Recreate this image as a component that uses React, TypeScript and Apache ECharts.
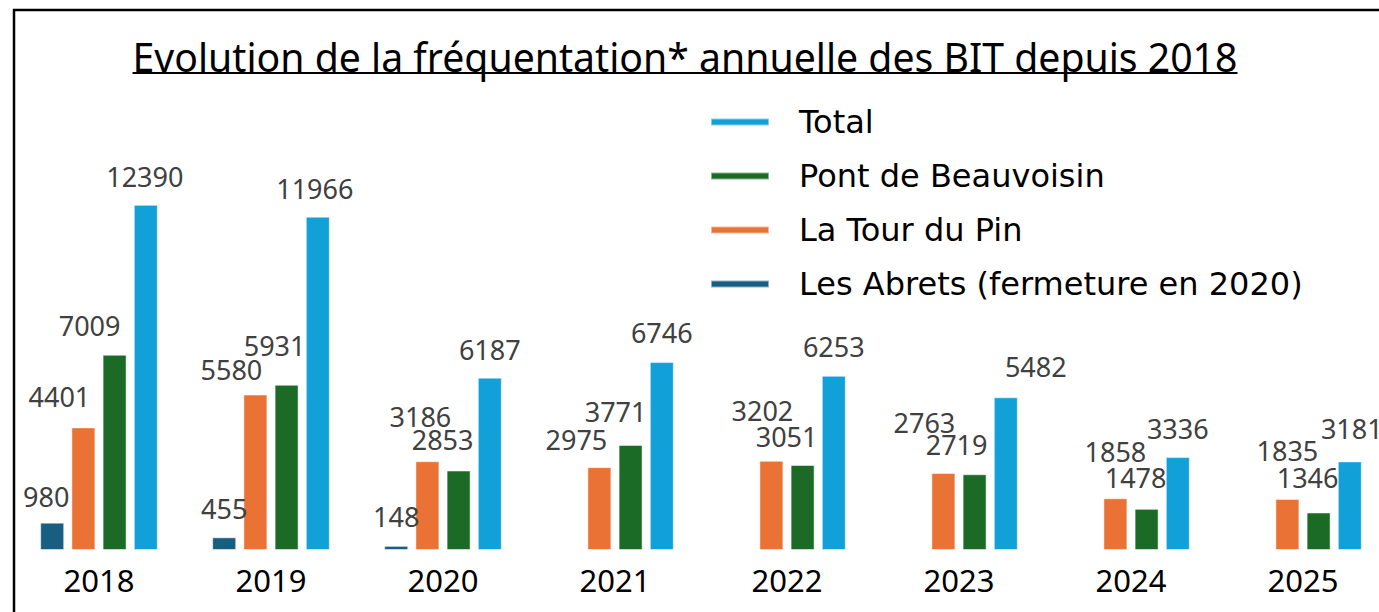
import React, { useEffect, useRef } from 'react';
import * as echarts from 'echarts';

const years = ['2018', '2019', '2020', '2021', '2022', '2023', '2024', '2025'];
const lesAbrets = [980, 455, 148, null, null, null, null, null];
const laTourDuPin = [4401, 5580, 3186, 2975, 3202, 2763, 1858, 1835];
const pontDeBeauvoisin = [7009, 5931, 2853, 3771, 3051, 2719, 1478, 1346];
const total = [12390, 11966, 6187, 6746, 6253, 5482, 3336, 3181];

const titleText = 'Evolution de la fréquentation* annuelle des BIT depuis 2018';
const nameAbrets = 'Les Abrets (fermeture en 2020)';
const nameTour = 'La Tour du Pin';
const namePont = 'Pont de Beauvoisin';
const nameTotal = 'Total';
const legendOrder = [nameTotal, namePont, nameTour, nameAbrets];

const colorAbrets = '#175e80';
const colorTour = '#e97234';
const colorPont = '#1b6b26';
const colorTotal = '#12a0d8';

// label nudges [dx, dy] per year, one list per series
const shiftAbrets = [[-6, 2], [0, 0], [0, -1], [0, 0], [0, 0], [0, 0], [0, 0], [0, 0]];
const shiftTour = [[-24, -2], [-24, 3], [-7, -16], [-23, 1], [-9, -22], [-19, -22], [0, -18], [0, -20]];
const shiftPont = [[-25, -1], [-12, -11], [-16, -3], [-15, -5], [-16, 0], [-18, -1], [-11, -3], [-11, -7]];
const shiftTotal = [[-1, 0], [-3, 0], [0, 0], [0, -1], [0, -1], [30, -2], [0, 0], [2, -4]];

const FONT = '"Noto Sans", "Open Sans", sans-serif';
const LEGEND_FONT = '"DejaVu Sans", "Noto Sans", sans-serif';

function items(values: (number | null)[], shifts: number[][]) {
  return values.map((v, i) =>
    v == null ? '-' : { value: v, label: { offset: shifts[i] } }
  );
}

export default function App() {
  const ref = useRef<HTMLDivElement>(null);
  useEffect(() => {
    if (!ref.current) return;
    document.documentElement.style.overflow = 'hidden';
    document.body.style.overflow = 'hidden';
    document.body.style.margin = '0';
    const chart = echarts.init(ref.current, null, { renderer: 'svg' });

    // fit title font size to the reference width
    const targetW = 1105;
    let fs = 40;
    try {
      const ctx = document.createElement('canvas').getContext('2d');
      if (ctx) {
        ctx.font = `40px "Noto Sans"`;
        const w = ctx.measureText(titleText).width;
        if (w > 0) fs = (40 * targetW) / w;
      }
    } catch (e) {}
    const titleCx = 685;

    const labelBase = {
      show: true,
      position: 'top',
      distance: 15,
      fontSize: 27,
      color: '#404040',
      fontFamily: FONT,
    };

    const mk = (name: string, color: string, data: any[]) => ({
      name,
      type: 'bar',
      barWidth: 24,
      barGap: '30%',
      itemStyle: { color, borderColor: 'rgba(255,255,255,0.5)', borderWidth: 1 },
      label: labelBase,
      data,
    });

    chart.setOption({
      animation: false,
      backgroundColor: '#fff',
      graphic: [
        {
          type: 'rect',
          shape: { x: 14, y: 10, width: 1500, height: 800 },
          style: { fill: 'none', stroke: '#000', lineWidth: 2.5 },
          z: 0,
        },
        {
          type: 'text',
          x: titleCx,
          y: 56,
          style: {
            text: titleText,
            fontSize: fs,
            fontFamily: '"Noto Sans"',
            fill: '#000',
            align: 'center',
            verticalAlign: 'middle',
          },
        },
        {
          type: 'line',
          shape: { x1: titleCx - targetW / 2, y1: 73, x2: titleCx + targetW / 2, y2: 73 },
          style: { stroke: '#000', lineWidth: 2 },
        },
      ],
      legend: {
        orient: 'vertical',
        left: 710,
        top: 106,
        padding: 0,
        data: legendOrder,
        icon: 'rect',
        itemWidth: 58,
        itemHeight: 7,
        itemGap: 22,
        textStyle: { fontSize: 32, color: '#000', fontFamily: LEGEND_FONT, padding: [0, 0, 0, 25] },
      },
      grid: { left: 13, right: 0, top: 160, bottom: 62 },
      xAxis: {
        type: 'category',
        data: years,
        axisLine: { show: false },
        axisTick: { show: false },
        axisLabel: { fontSize: 31, color: '#000', fontFamily: FONT, margin: 14 },
      },
      yAxis: {
        type: 'value',
        min: 0,
        max: 14000,
        show: false,
        splitLine: { show: false },
      },
      series: [
        mk(nameAbrets, colorAbrets, items(lesAbrets, shiftAbrets)),
        mk(nameTour, colorTour, items(laTourDuPin, shiftTour)),
        mk(namePont, colorPont, items(pontDeBeauvoisin, shiftPont)),
        mk(nameTotal, colorTotal, items(total, shiftTotal)),
      ],
    });
    return () => chart.dispose();
  }, []);
  return (
    <div
      ref={ref}
      style={{ position: 'fixed', left: 0, top: 0, width: 1389, height: 612 }}
    />
  );
}
